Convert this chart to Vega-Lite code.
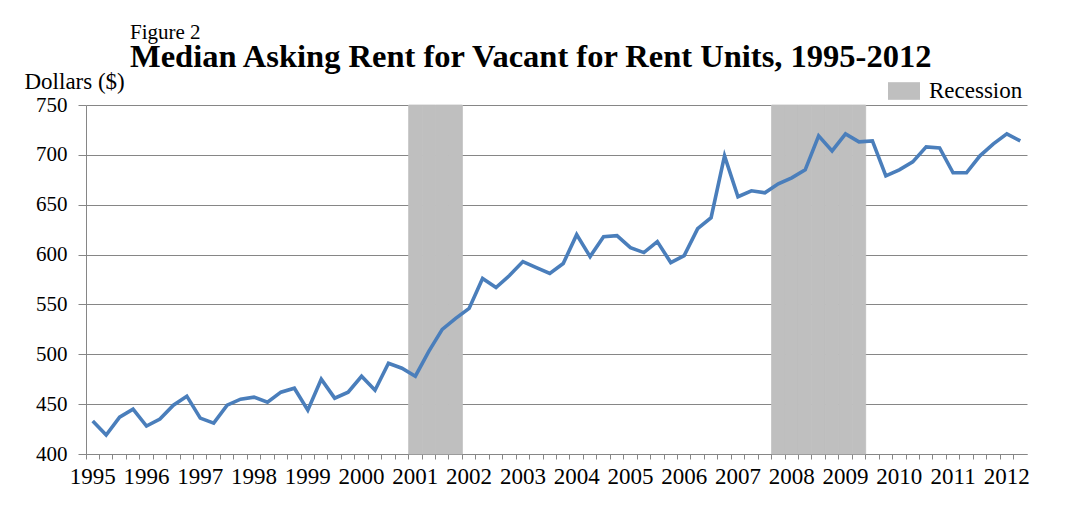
{
  "$schema": "https://vega.github.io/schema/vega-lite/v6.json",
  "width": 941,
  "height": 349,
  "autosize": {"type": "none"},
  "padding": {"left": 86, "top": 105, "right": 40, "bottom": 64},
  "background": "white",
  "title": {
    "text": "Figure 2",
    "subtitle": "Median Asking Rent for Vacant for Rent Units, 1995-2012",
    "anchor": "start",
    "frame": "group",
    "dx": 44,
    "offset": -3,
    "font": "Liberation Serif",
    "fontSize": 21,
    "fontWeight": "normal",
    "color": "black",
    "subtitleFont": "Liberation Serif",
    "subtitleFontSize": 32.5,
    "subtitleFontWeight": "bold",
    "subtitleColor": "black",
    "subtitlePadding": -2
  },
  "data": {
    "values": [
      {"period": "1995Q1", "rent": 433, "rec": null},
      {"period": "1995Q2", "rent": 419, "rec": null},
      {"period": "1995Q3", "rent": 437, "rec": null},
      {"period": "1995Q4", "rent": 445, "rec": null},
      {"period": "1996Q1", "rent": 428, "rec": null},
      {"period": "1996Q2", "rent": 435, "rec": null},
      {"period": "1996Q3", "rent": 449, "rec": null},
      {"period": "1996Q4", "rent": 458, "rec": null},
      {"period": "1997Q1", "rent": 436, "rec": null},
      {"period": "1997Q2", "rent": 431, "rec": null},
      {"period": "1997Q3", "rent": 449, "rec": null},
      {"period": "1997Q4", "rent": 455, "rec": null},
      {"period": "1998Q1", "rent": 457, "rec": null},
      {"period": "1998Q2", "rent": 452, "rec": null},
      {"period": "1998Q3", "rent": 462, "rec": null},
      {"period": "1998Q4", "rent": 466, "rec": null},
      {"period": "1999Q1", "rent": 444, "rec": null},
      {"period": "1999Q2", "rent": 475, "rec": null},
      {"period": "1999Q3", "rent": 456, "rec": null},
      {"period": "1999Q4", "rent": 462, "rec": null},
      {"period": "2000Q1", "rent": 478, "rec": null},
      {"period": "2000Q2", "rent": 464, "rec": null},
      {"period": "2000Q3", "rent": 491, "rec": null},
      {"period": "2000Q4", "rent": 486, "rec": null},
      {"period": "2001Q1", "rent": 478, "rec": 750},
      {"period": "2001Q2", "rent": 503, "rec": 750},
      {"period": "2001Q3", "rent": 525, "rec": 750},
      {"period": "2001Q4", "rent": 536, "rec": 750},
      {"period": "2002Q1", "rent": 546, "rec": null},
      {"period": "2002Q2", "rent": 576, "rec": null},
      {"period": "2002Q3", "rent": 567, "rec": null},
      {"period": "2002Q4", "rent": 579, "rec": null},
      {"period": "2003Q1", "rent": 593, "rec": null},
      {"period": "2003Q2", "rent": 587, "rec": null},
      {"period": "2003Q3", "rent": 581, "rec": null},
      {"period": "2003Q4", "rent": 591, "rec": null},
      {"period": "2004Q1", "rent": 620, "rec": null},
      {"period": "2004Q2", "rent": 598, "rec": null},
      {"period": "2004Q3", "rent": 618, "rec": null},
      {"period": "2004Q4", "rent": 619, "rec": null},
      {"period": "2005Q1", "rent": 607, "rec": null},
      {"period": "2005Q2", "rent": 602, "rec": null},
      {"period": "2005Q3", "rent": 613, "rec": null},
      {"period": "2005Q4", "rent": 592, "rec": null},
      {"period": "2006Q1", "rent": 599, "rec": null},
      {"period": "2006Q2", "rent": 626, "rec": null},
      {"period": "2006Q3", "rent": 637, "rec": null},
      {"period": "2006Q4", "rent": 699, "rec": null},
      {"period": "2007Q1", "rent": 658, "rec": null},
      {"period": "2007Q2", "rent": 664, "rec": null},
      {"period": "2007Q3", "rent": 662, "rec": null},
      {"period": "2007Q4", "rent": 671, "rec": 750},
      {"period": "2008Q1", "rent": 677, "rec": 750},
      {"period": "2008Q2", "rent": 685, "rec": 750},
      {"period": "2008Q3", "rent": 719, "rec": 750},
      {"period": "2008Q4", "rent": 704, "rec": 750},
      {"period": "2009Q1", "rent": 721, "rec": 750},
      {"period": "2009Q2", "rent": 713, "rec": 750},
      {"period": "2009Q3", "rent": 714, "rec": null},
      {"period": "2009Q4", "rent": 679, "rec": null},
      {"period": "2010Q1", "rent": 685, "rec": null},
      {"period": "2010Q2", "rent": 693, "rec": null},
      {"period": "2010Q3", "rent": 708, "rec": null},
      {"period": "2010Q4", "rent": 707, "rec": null},
      {"period": "2011Q1", "rent": 682, "rec": null},
      {"period": "2011Q2", "rent": 682, "rec": null},
      {"period": "2011Q3", "rent": 699, "rec": null},
      {"period": "2011Q4", "rent": 711, "rec": null},
      {"period": "2012Q1", "rent": 721, "rec": null},
      {"period": "2012Q2", "rent": 714, "rec": null}
    ]
  },
  "encoding": {
    "x": {
      "field": "period",
      "type": "ordinal",
      "sort": "ascending",
      "scale": {"paddingInner": 0, "paddingOuter": 0},
      "axis": {
        "title": null,
        "bandPosition": 0,
        "labelAngle": 0,
        "labelExpr": "indexof(datum.value, 'Q1') > 0 ? substring(datum.value, 0, 4) : ''",
        "labelOverlap": false,
        "labelFont": "Liberation Serif",
        "labelFontSize": 23,
        "labelColor": "black",
        "labelPadding": 6,
        "tickSize": 5,
        "tickColor": "#868686",
        "domainColor": "#868686",
        "grid": false
      }
    }
  },
  "layer": [
    {
      "transform": [{"filter": "datum.rec != null"}],
      "mark": {"type": "bar", "stroke": "#BFBFBF", "strokeWidth": 0.8},
      "encoding": {
        "y": {"field": "rec", "type": "quantitative"},
        "y2": {"datum": 400},
        "color": {
          "datum": "Recession",
          "scale": {"range": ["#BFBFBF"]},
          "legend": {
            "title": null,
            "orient": "none",
            "legendX": 802,
            "legendY": -30,
            "padding": 0,
            "symbolType": "M-1,-0.55H1V0.55H-1Z",
            "symbolSize": 1024,
            "symbolStrokeWidth": 0,
            "symbolOpacity": 1,
            "labelFont": "Liberation Serif",
            "labelFontSize": 23,
            "labelColor": "black",
            "labelOffset": 9
          }
        }
      }
    },
    {
      "mark": {"type": "line", "color": "#4A7EBB", "strokeWidth": 3.6, "strokeJoin": "miter"},
      "encoding": {
        "y": {
          "field": "rent",
          "type": "quantitative",
          "scale": {"domain": [400, 750], "zero": false, "nice": false},
          "axis": {
            "title": "Dollars ($)",
            "titleAngle": 0,
            "titleAlign": "left",
            "titleBaseline": "alphabetic",
            "titleX": -62,
            "titleY": -17,
            "titleFont": "Liberation Serif",
            "titleFontSize": 23,
            "titleFontWeight": "normal",
            "titleColor": "black",
            "values": [400, 450, 500, 550, 600, 650, 700, 750],
            "labelFont": "Liberation Serif",
            "labelFontSize": 21,
            "labelColor": "black",
            "labelPadding": 11,
            "tickSize": 8,
            "tickColor": "#868686",
            "domainColor": "#868686",
            "gridColor": "#868686",
            "gridOpacity": 1
          }
        }
      }
    }
  ],
  "config": {"view": {"stroke": null}}
}
